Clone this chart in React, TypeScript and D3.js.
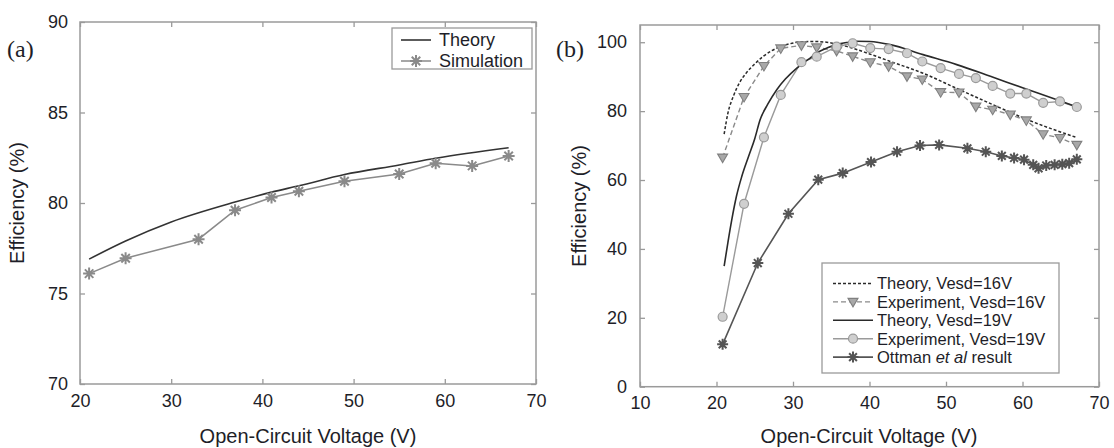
import React, { useEffect, useRef } from 'react';
import * as d3 from 'd3';

const W = 1114;
const H = 448;
const FONT = "'Liberation Sans', Arial, Helvetica, sans-serif";

// ---------- Panel (a) ----------
const xTicksA = [20, 30, 40, 50, 60, 70];
const yTicksA = [70, 75, 80, 85, 90];
const theoryVoltageA = [21, 25, 30, 37, 41, 44, 49, 55, 59, 67];
const theoryA = [76.9, 77.9, 78.95, 80.05, 80.6, 80.95, 81.57, 82.1, 82.47, 83.05];
const simVoltageA = [21, 25, 33, 37, 41, 44, 49, 55, 59, 63, 67];
const simulationA = [76.1, 76.95, 78.0, 79.6, 80.3, 80.65, 81.2, 81.6, 82.2, 82.05, 82.6];
const legendA = ['Theory', 'Simulation'];

// ---------- Panel (b) ----------
const xTicksB = [10, 20, 30, 40, 50, 60, 70];
const yTicksB = [0, 20, 40, 60, 80, 100];
const theory16Voltage = [21, 21.5, 22.2, 23, 23.9, 25, 26.1, 27.2, 28.3, 29.5, 31, 33, 35, 37, 40, 43, 47, 51, 56, 61, 67];
const theory16 = [73.3, 79.5, 84.3, 88.2, 91.1, 93.7, 95.9, 97.5, 98.7, 99.5, 100.1, 100.2, 99.8, 98.8, 96.6, 94.2, 91.0, 87.0, 82.0, 77.2, 72.4];
const expVoltage = [20.8, 23.6, 26.2, 28.4, 31.1, 33.1, 35.7, 37.8, 40.1, 42.5, 44.9, 46.9, 49.3, 51.7, 53.9, 56.1, 58.4, 60.5, 62.7, 64.9, 67.1];
const exp16 = [66.5, 84.1, 93.1, 98.2, 99.1, 98.5, 97.5, 95.9, 94.2, 93.0, 90.1, 89.2, 85.5, 85.4, 81.3, 80.4, 79.0, 77.3, 73.3, 72.2, 70.2];
const theory19Voltage = [21, 21.5, 22, 22.6, 23.3, 24.2, 25, 25.7, 26.7, 27.9, 29, 30.5, 32, 33.1, 34.5, 35.7, 37, 38.3, 40, 42.7, 47, 51.4, 55.8, 60.1, 64.5, 67.1];
const theory19 = [35, 42, 48.5, 55.2, 61, 66.9, 72, 77.5, 82, 86.3, 89.3, 92.5, 95, 96.9, 98.4, 99.3, 99.9, 100.3, 100.2, 99.3, 96.4, 93.5, 90.1, 86.7, 83.3, 81.2];
const exp19 = [20.3, 53.1, 72.4, 84.7, 94.2, 95.8, 98.7, 99.7, 98.3, 98.0, 96.8, 94.4, 92.5, 90.8, 89.6, 87.3, 85.1, 85.1, 82.4, 82.8, 81.2];
const ottmanVoltage = [20.8, 25.4, 29.4, 33.3, 36.5, 40.2, 43.6, 46.6, 49.1, 52.8, 55.2, 57.3, 58.9, 60.2, 61.4, 62.1, 63.1, 64.2, 65.2, 66.1, 67.1];
const ottman = [12.3, 35.9, 50.2, 60.1, 62.0, 65.2, 68.2, 70.0, 70.2, 69.2, 68.2, 67.0, 66.4, 65.9, 64.4, 63.4, 64.2, 64.4, 64.6, 64.9, 66.0];
const legendB = ['Theory, Vesd=16V', 'Experiment, Vesd=16V', 'Theory, Vesd=19V', 'Experiment, Vesd=19V', 'Ottman'];

type Sel = d3.Selection<any, unknown, null, undefined>;

function starPath(r: number) {
  let d = '';
  for (let i = 0; i < 4; i++) {
    const a = (i * Math.PI) / 4;
    const dx = r * Math.cos(a);
    const dy = r * Math.sin(a);
    d += `M${-dx},${-dy}L${dx},${dy}`;
  }
  return d;
}

function drawStar(g: Sel, x: number, y: number, r: number, color: string) {
  g.append('path').attr('d', starPath(r)).attr('transform', `translate(${x},${y})`)
    .attr('stroke', color).attr('stroke-width', 2).attr('fill', 'none');
  g.append('circle').attr('cx', x).attr('cy', y).attr('r', r * 0.4).attr('fill', color);
}

function drawTri(g: Sel, x: number, y: number) {
  g.append('path').attr('d', 'M-5,-3.5L5,-3.5L0,5Z').attr('transform', `translate(${x},${y})`)
    .attr('fill', '#a8a8a8').attr('stroke', '#808080').attr('stroke-width', 1.1);
}

function drawCirc(g: Sel, x: number, y: number) {
  g.append('circle').attr('cx', x).attr('cy', y).attr('r', 4.5)
    .attr('fill', '#cfcfcf').attr('stroke', '#9a9a9a').attr('stroke-width', 1.2);
}

function frameAndAxes(svg: Sel, x: d3.ScaleLinear<number, number>, y: d3.ScaleLinear<number, number>,
  xt: number[], yt: number[], yPad: number) {
  const [x0, x1] = x.range();
  const [y0, y1] = y.range();
  const styleAxis = (g: Sel) => {
    g.select('.domain').remove();
    g.selectAll('line').attr('stroke', '#9a9a9a').attr('stroke-width', 1.3);
    g.selectAll('text').attr('fill', '#1e1e28').attr('font-size', 18).attr('font-family', FONT);
  };
  svg.append('g').attr('transform', `translate(0,${y0})`)
    .call(d3.axisBottom(x).tickValues(xt).tickSize(-5).tickPadding(10).tickFormat(d3.format('d')) as any)
    .call(styleAxis);
  svg.append('g').attr('transform', `translate(0,${y1})`)
    .call(d3.axisTop(x).tickValues(xt).tickSize(-5).tickFormat(() => '') as any)
    .call(styleAxis);
  svg.append('g').attr('transform', `translate(${x0},0)`)
    .call(d3.axisLeft(y).tickValues(yt).tickSize(-5).tickPadding(yPad).tickFormat(d3.format('d')) as any)
    .call(styleAxis);
  svg.append('g').attr('transform', `translate(${x1},0)`)
    .call(d3.axisRight(y).tickValues(yt).tickSize(-5).tickFormat(() => '') as any)
    .call(styleAxis);
  svg.append('rect').attr('x', x0).attr('y', y1).attr('width', x1 - x0).attr('height', y0 - y1)
    .attr('fill', 'none').attr('stroke', '#9a9a9a').attr('stroke-width', 1.5);
}

function titles(svg: Sel, cx: number, xBase: number, yx: number, cy: number, panel: string, px: number) {
  svg.append('text').attr('x', cx).attr('y', xBase).attr('text-anchor', 'middle')
    .attr('font-family', FONT).attr('font-size', 20).attr('fill', '#1e1e28').text('Open-Circuit Voltage (V)');
  svg.append('text').attr('transform', `translate(${yx},${cy}) rotate(-90)`).attr('text-anchor', 'middle')
    .attr('font-family', FONT).attr('font-size', 20).attr('fill', '#1e1e28').text('Efficiency (%)');
  svg.append('text').attr('x', px).attr('y', 57)
    .attr('font-family', "'Liberation Serif', 'Times New Roman', serif").attr('font-size', 24)
    .attr('fill', '#1e1e28').text(panel);
}

function drawA(svg: Sel) {
  const x = d3.scaleLinear().domain([20, 70]).range([80, 536]);
  const y = d3.scaleLinear().domain([70, 90]).range([384, 22]);
  frameAndAxes(svg, x, y, xTicksA, yTicksA, 12);
  titles(svg, 308, 443, 24, 203, '(a)', 7);

  const line = d3.line<[number, number]>().x(d => x(d[0])).y(d => y(d[1]));
  const th = theoryVoltageA.map((v, i) => [v, theoryA[i]] as [number, number]);
  const sim = simVoltageA.map((v, i) => [v, simulationA[i]] as [number, number]);
  svg.append('path').attr('d', line.curve(d3.curveMonotoneX)(th))
    .attr('fill', 'none').attr('stroke', '#333').attr('stroke-width', 1.6);
  svg.append('path').attr('d', line.curve(d3.curveLinear)(sim))
    .attr('fill', 'none').attr('stroke', '#8a8a8a').attr('stroke-width', 1.5);
  sim.forEach(d => drawStar(svg, x(d[0]), y(d[1]), 6, '#8a8a8a'));

  // legend
  const lg = svg.append('g');
  lg.append('rect').attr('x', 392).attr('y', 28).attr('width', 140).attr('height', 41)
    .attr('fill', '#fff').attr('stroke', '#9a9a9a').attr('stroke-width', 1.3);
  const rows = [40, 61];
  lg.append('line').attr('x1', 401).attr('x2', 431).attr('y1', rows[0]).attr('y2', rows[0])
    .attr('stroke', '#333').attr('stroke-width', 1.6);
  lg.append('line').attr('x1', 401).attr('x2', 431).attr('y1', rows[1]).attr('y2', rows[1])
    .attr('stroke', '#8a8a8a').attr('stroke-width', 1.5);
  drawStar(lg, 416, rows[1], 6, '#8a8a8a');
  legendA.forEach((t, i) => {
    lg.append('text').attr('x', 439).attr('y', rows[i] + 6).attr('font-family', FONT)
      .attr('font-size', 18).attr('fill', '#1e1e28').text(t);
  });
}

function drawB(svg: Sel) {
  const x = d3.scaleLinear().domain([10, 70]).range([640, 1099]);
  const y = d3.scaleLinear().domain([0, 105]).range([386.7, 25]);
  frameAndAxes(svg, x, y, xTicksB, yTicksB, 13);
  titles(svg, 869, 443, 586, 206, '(b)', 556);

  const pts = (xs: number[], ys: number[]) => xs.map((v, i) => [v, ys[i]] as [number, number]);
  const lineS = d3.line<[number, number]>().x(d => x(d[0])).y(d => y(d[1])).curve(d3.curveMonotoneX);
  const lineL = d3.line<[number, number]>().x(d => x(d[0])).y(d => y(d[1]));

  // Experiment 16V
  const e16 = pts(expVoltage, exp16);
  svg.append('path').attr('d', lineL(e16)).attr('fill', 'none').attr('stroke', '#8a8a8a')
    .attr('stroke-width', 1.4).attr('stroke-dasharray', '5,3');
  // Theory 16V
  svg.append('path').attr('d', lineS(pts(theory16Voltage, theory16))).attr('fill', 'none')
    .attr('stroke', '#2a2a2a').attr('stroke-width', 1.5).attr('stroke-dasharray', '3,2');
  // Experiment 19V
  const e19 = pts(expVoltage, exp19);
  svg.append('path').attr('d', lineL(e19)).attr('fill', 'none').attr('stroke', '#9a9a9a').attr('stroke-width', 1.4);
  // Theory 19V
  svg.append('path').attr('d', lineS(pts(theory19Voltage, theory19))).attr('fill', 'none')
    .attr('stroke', '#2a2a2a').attr('stroke-width', 1.6);
  // Ottman
  const ot = pts(ottmanVoltage, ottman);
  svg.append('path').attr('d', lineL(ot)).attr('fill', 'none').attr('stroke', '#555').attr('stroke-width', 1.6);

  e16.forEach(d => drawTri(svg, x(d[0]), y(d[1])));
  e19.forEach(d => drawCirc(svg, x(d[0]), y(d[1])));
  ot.forEach(d => drawStar(svg, x(d[0]), y(d[1]), 5.5, '#555'));

  // legend
  const lg = svg.append('g');
  lg.append('rect').attr('x', 822).attr('y', 263).attr('width', 237).attr('height', 110)
    .attr('fill', '#fff').attr('stroke', '#9a9a9a').attr('stroke-width', 1.3);
  const r0 = 283.5, step = 18.4, lx1 = 833, lx2 = 873, mx = 853, tx = 877;
  const rowY = (i: number) => r0 + i * step;
  lg.append('line').attr('x1', lx1).attr('x2', lx2).attr('y1', rowY(0)).attr('y2', rowY(0))
    .attr('stroke', '#2a2a2a').attr('stroke-width', 1.5).attr('stroke-dasharray', '3,2');
  lg.append('line').attr('x1', lx1).attr('x2', lx2).attr('y1', rowY(1)).attr('y2', rowY(1))
    .attr('stroke', '#8a8a8a').attr('stroke-width', 1.4).attr('stroke-dasharray', '5,3');
  drawTri(lg, mx, rowY(1));
  lg.append('line').attr('x1', lx1).attr('x2', lx2).attr('y1', rowY(2)).attr('y2', rowY(2))
    .attr('stroke', '#2a2a2a').attr('stroke-width', 1.6);
  lg.append('line').attr('x1', lx1).attr('x2', lx2).attr('y1', rowY(3)).attr('y2', rowY(3))
    .attr('stroke', '#9a9a9a').attr('stroke-width', 1.4);
  drawCirc(lg, mx, rowY(3));
  lg.append('line').attr('x1', lx1).attr('x2', lx2).attr('y1', rowY(4)).attr('y2', rowY(4))
    .attr('stroke', '#555').attr('stroke-width', 1.6);
  drawStar(lg, mx, rowY(4), 5.5, '#555');
  legendB.forEach((t, i) => {
    const txt = lg.append('text').attr('x', tx).attr('y', rowY(i) + 5.8).attr('font-family', FONT)
      .attr('font-size', 16.5).attr('fill', '#1e1e28');
    if (t === 'Ottman') {
      txt.append('tspan').text('Ottman ');
      txt.append('tspan').attr('font-style', 'italic').text('et al');
      txt.append('tspan').text(' result');
    } else {
      txt.text(t);
    }
  });
}

export default function App() {
  const ref = useRef<SVGSVGElement>(null);
  useEffect(() => {
    const svg = d3.select(ref.current) as unknown as Sel;
    svg.selectAll('*').remove();
    drawA(svg);
    drawB(svg);
  }, []);
  return (
    <svg ref={ref} width={W} height={H}
      style={{ position: 'absolute', left: 0, top: 0, background: '#fff', display: 'block' }} />
  );
}
